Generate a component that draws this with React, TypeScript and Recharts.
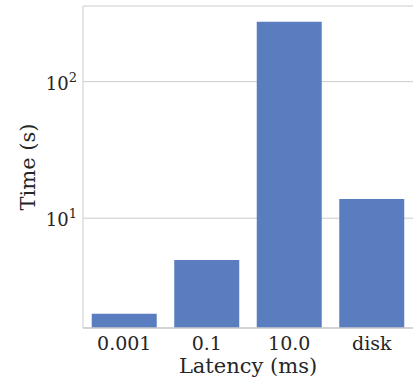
import { BarChart, Bar, XAxis, YAxis, CartesianGrid, Label } from 'recharts';

const categories = ['0.001', '0.1', '10.0', 'disk'];
const times = [2.0, 4.95, 275, 13.8];
const yTicks = [10, 100];
const yDomain = [1.57, 358];

const data = categories.map((latency, i) => ({ latency, time: times[i] }));

const FONT = '"DejaVu Serif", serif';
const TEXT = '#262626';
const GRID = '#cccccc';

const PowerTick = ({ x, y, payload }: any) => {
  const exp = Math.round(Math.log10(payload.value));
  return (
    <text x={x + 2} y={y + 8} textAnchor="end" fill={TEXT} style={{ fontFamily: FONT, fontSize: 18 }}>
      <tspan>10</tspan>
      <tspan dy={-8} style={{ fontSize: 13 }}>{exp}</tspan>
    </text>
  );
};

const CatTick = ({ x, y, payload }: any) => (
  <text x={x} y={y + 14} textAnchor="middle" fill={TEXT} style={{ fontFamily: FONT, fontSize: 19 }}>
    {payload.value}
  </text>
);

const App = () => {
  return (
    <div style={{ position: 'absolute', left: 0, top: 0, background: '#fff' }}>
      <BarChart
        width={414}
        height={379}
        data={data}
        margin={{ top: 6, right: 1, bottom: 0, left: 0 }}
        barCategoryGap="10.6%"
      >
        <CartesianGrid vertical={false} stroke={GRID} strokeWidth={1} />
        <XAxis
          dataKey="latency"
          height={51}
          tickLine={false}
          axisLine={{ stroke: GRID, strokeWidth: 1.5 }}
          tick={<CatTick />}
          interval={0}
        >
          <Label
            value="Latency (ms)"
            position="insideBottom"
            offset={6}
            fill={TEXT}
            style={{ fontFamily: FONT, fontSize: 21 }}
          />
        </XAxis>
        <XAxis xAxisId="top" dataKey="latency" orientation="top" height={0} tick={false} tickLine={false} axisLine={{ stroke: GRID }} />
        <YAxis
          scale="log"
          domain={yDomain}
          allowDataOverflow
          ticks={yTicks}
          width={83}
          tickLine={false}
          axisLine={{ stroke: GRID }}
          tick={<PowerTick />}
        >
          <Label
            value="Time (s)"
            angle={-90}
            position="insideLeft"
            offset={28}
            fill={TEXT}
            style={{ fontFamily: FONT, fontSize: 21, textAnchor: 'middle' }}
          />
        </YAxis>
        <YAxis yAxisId="right" orientation="right" width={0} tick={false} tickLine={false} axisLine={{ stroke: GRID }} />
        <Bar dataKey="time" fill="#5a7dbf" isAnimationActive={false} />
      </BarChart>
    </div>
  );
};

export default App;
